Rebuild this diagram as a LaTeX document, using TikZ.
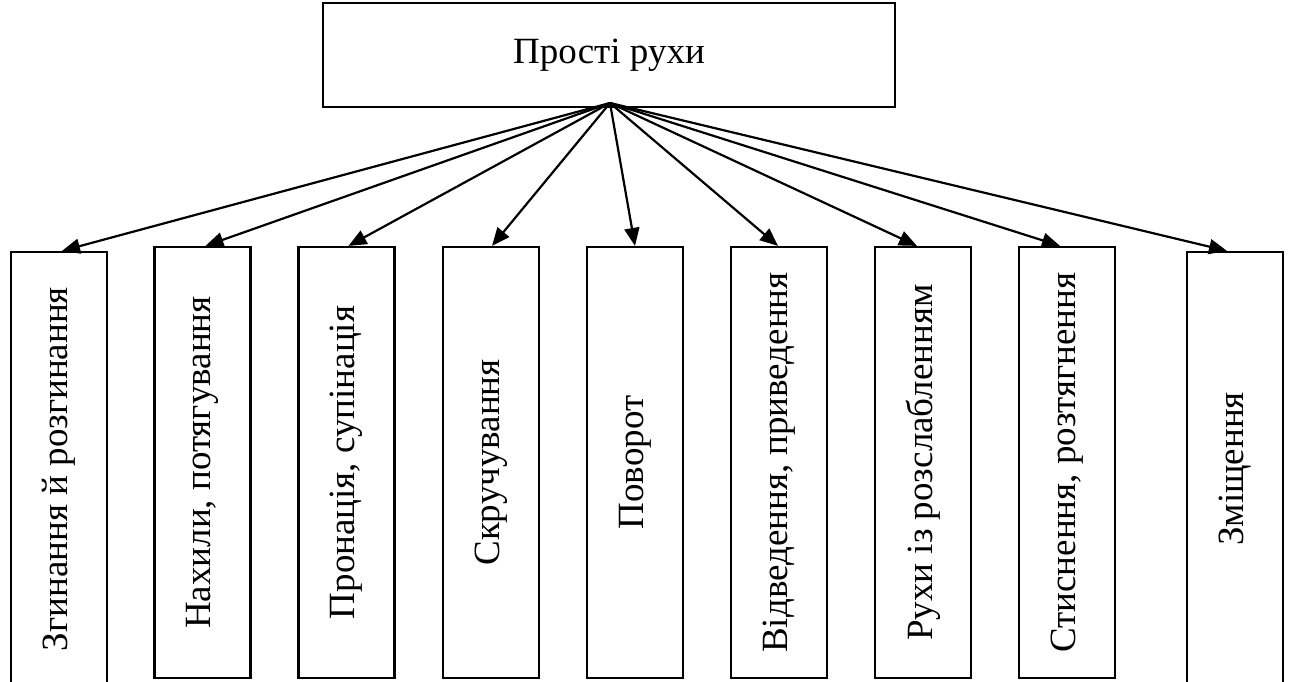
\documentclass[tikz,border=0pt]{standalone}
\usepackage{fontspec}
\setmainfont{Liberation Serif}
\usepackage{graphicx}
\usetikzlibrary{arrows.meta}

\begin{document}
\begin{tikzpicture}[x=1pt,y=-1pt,line width=2.2pt,
    >={Triangle[length=18pt,width=15pt]}]
    \tikzset{
        box/.style={
            draw,inner sep=0pt,
            font=\fontsize{37}{44}\selectfont
        },
        root/.style={box,minimum width=572pt,minimum height=104pt},
        kind/.style={box,minimum width=96pt,minimum height=431pt},
        kindlow/.style={box,minimum width=96pt,minimum height=434pt},
        link/.style={->}
    }
    \useasboundingbox (0,0) rectangle (1290,681);
    \clip (0,0) rectangle (1290,681);

    \node[root] (root) at (609,55) {Прості рухи};
    \coordinate (hub) at (610,103);

    \node[kindlow] (bend) at (59,469)
        {\rotatebox{90}{Згинання й розгинання}};
    \node[kind] (tilt) at (202.5,462.5)
        {\rotatebox{90}{Нахили, потягування}};
    \node[kind] (pron) at (346.5,462.5)
        {\rotatebox{90}{Пронація, супінація}};
    \node[kind] (twist) at (491,462.5)
        {\rotatebox{90}{Скручування}};
    \node[kind] (turn) at (635,462.5)
        {\rotatebox{90}{Поворот}};
    \node[kind] (abduct) at (779,462.5)
        {\rotatebox{90}{Відведення, приведення}};
    \node[kind] (relax) at (923,462.5)
        {\rotatebox{90}{Рухи із розслабленням}};
    \node[kind] (press) at (1067,462.5)
        {\rotatebox{90}{Стиснення, розтягнення}};
    \node[kindlow] (shift) at (1235,469)
        {\rotatebox{90}{Зміщення}};

    \foreach \b/\d in {bend/3,tilt/3,pron/2,twist/1,turn/0,
        abduct/-1,relax/-6,press/-7,shift/-8}{
        \draw[link] (hub) -- ([xshift=\d pt]\b.north);
    }
\end{tikzpicture}
\end{document}
